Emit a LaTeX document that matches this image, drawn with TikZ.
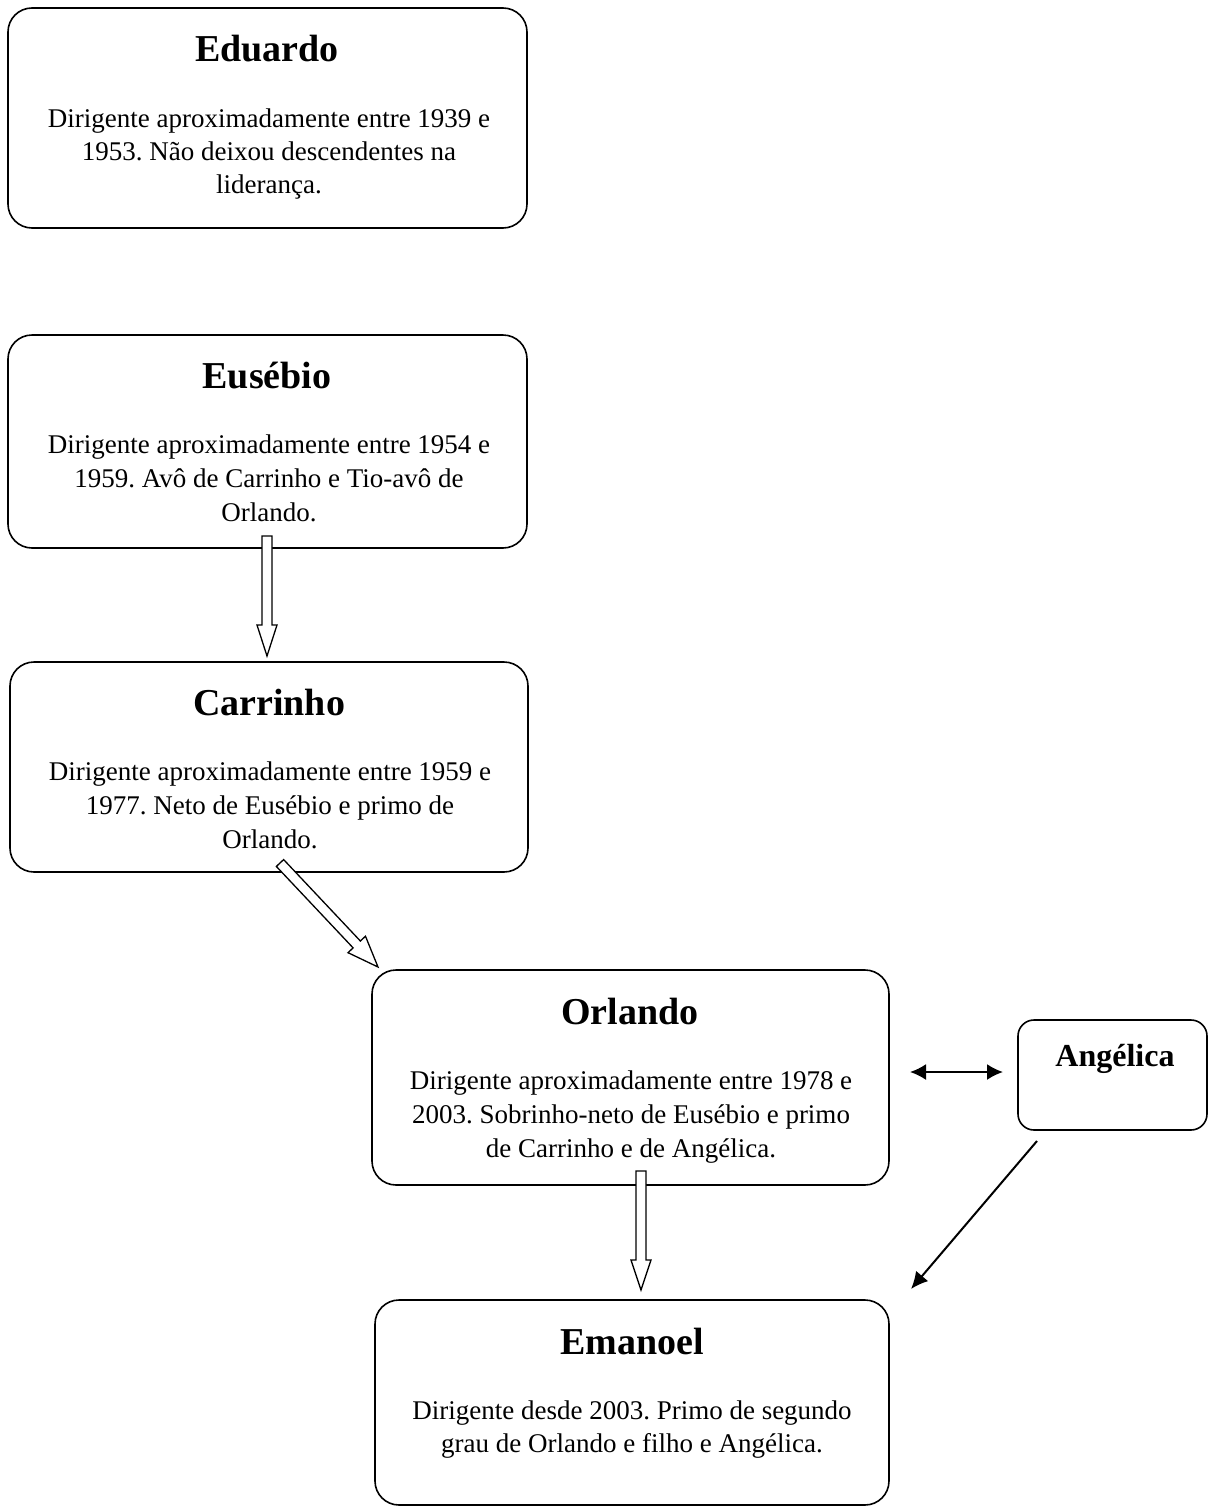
\documentclass[tikz,border=0pt]{standalone}
\usepackage{fontspec}
\setmainfont{Liberation Serif}
\usetikzlibrary{calc,arrows.meta}
\frenchspacing
\tikzset{
  box/.style={draw, line width=1.6pt, rounded corners=24pt, inner sep=0pt},
  ttl/.style={anchor=base, inner sep=0pt, font=\fontsize{38}{42}\selectfont\bfseries},
  txt/.style={anchor=base, inner sep=0pt, font=\fontsize{27}{31}\selectfont},
  solidarrow/.style={line width=2pt, -{Latex[length=17pt,width=16pt]}},
  dblarrow/.style={line width=2pt, {Latex[length=16pt,width=16pt]}-{Latex[length=16pt,width=16pt]}},
  hollow/.style={fill=white, line width=1.3pt, line join=miter},
}
% #1 start, #2 tip, #3 head length, #4 head half-width, #5 shaft half-width
\newcommand\hollowarrow[5]{%
  \coordinate (hah) at ($(#2)!#3!(#1)$);
  \filldraw[hollow]
    ($(#1)!#5!90:(#2)$) -- ($(hah)!#5!90:(#2)$) -- ($(hah)!#4!90:(#2)$) -- (#2)
    -- ($(hah)!#4!-90:(#2)$) -- ($(hah)!#5!-90:(#2)$) -- ($(#1)!#5!-90:(#2)$) -- cycle;}
\begin{document}
\begin{tikzpicture}[x=1pt, y=-1pt]
\useasboundingbox (0,0) rectangle (1213,1510);

% boxes
\node[box, minimum width=519pt, minimum height=220pt] (edu) at (267.5,118) {};
\node[box, minimum width=519pt, minimum height=213pt] (eus) at (267.5,441.5) {};
\node[box, minimum width=518pt, minimum height=210pt] (car) at (269,767) {};
\node[box, minimum width=517pt, minimum height=215pt] (orl) at (630.5,1077.5) {};
\node[box, rounded corners=16pt, minimum width=189pt, minimum height=110pt] (ang) at (1112.5,1075) {};
\node[box, minimum width=514pt, minimum height=205pt] (ema) at (632,1402.5) {};

% Eduardo
\node[ttl] (edut) at (267,61) {Eduardo};
\node[txt] (edu1) at (269,127) {Dirigente aproximadamente entre 1939 e};
\node[txt] (edu2) at (269,160) {1953. Não deixou descendentes na};
\node[txt] (edu3) at (269,193) {liderança.};

% Eusebio
\node[ttl] (eust) at (267,388) {Eusébio};
\node[txt] (eus1) at (269,453) {Dirigente aproximadamente entre 1954 e};
\node[txt] (eus2) at (269,487) {1959. Avô de Carrinho e Tio-avô de};
\node[txt] (eus3) at (269,521) {Orlando.};

% Carrinho
\node[ttl] (cart) at (269,715) {Carrinho};
\node[txt] (car1) at (270,780) {Dirigente aproximadamente entre 1959 e};
\node[txt] (car2) at (270,814) {1977. Neto de Eusébio e primo de};
\node[txt] (car3) at (270,848) {Orlando.};

% Orlando
\node[ttl] (orlt) at (630,1024) {Orlando};
\node[txt] (orl1) at (631,1089) {Dirigente aproximadamente entre 1978 e};
\node[txt] (orl2) at (631,1123) {2003. Sobrinho-neto de Eusébio e primo};
\node[txt] (orl3) at (631,1157) {de Carrinho e de Angélica.};

% Angelica
\node[anchor=base, inner sep=0pt, font=\fontsize{32}{36}\selectfont\bfseries] (angt) at (1115,1066) {Angélica};

% Emanoel
\node[ttl] (emat) at (632,1354) {Emanoel};
\node[txt] (ema1) at (632,1419) {Dirigente desde 2003. Primo de segundo};
\node[txt] (ema2) at (632,1452) {grau de Orlando e filho e Angélica.};

% connector end points
\coordinate (a1s) at (267,536);
\coordinate (a1e) at (267,656);
\coordinate (a2s) at (280,863);
\coordinate (a2e) at (378,967);
\coordinate (a3s) at (641,1171);
\coordinate (a3e) at (641,1290);
\coordinate (d1) at (910,1072);
\coordinate (d2) at (1003,1072);
\coordinate (s1) at (1037,1141);
\coordinate (s2) at (911,1289);

% connectors
\hollowarrow{a1s}{a1e}{31pt}{10pt}{5pt}
\hollowarrow{a2s}{a2e}{31pt}{12pt}{5pt}
\hollowarrow{a3s}{a3e}{30pt}{10pt}{5pt}
\draw[dblarrow] (d1) -- (d2);
\draw[solidarrow] (s1) -- (s2);
\end{tikzpicture}
\end{document}
